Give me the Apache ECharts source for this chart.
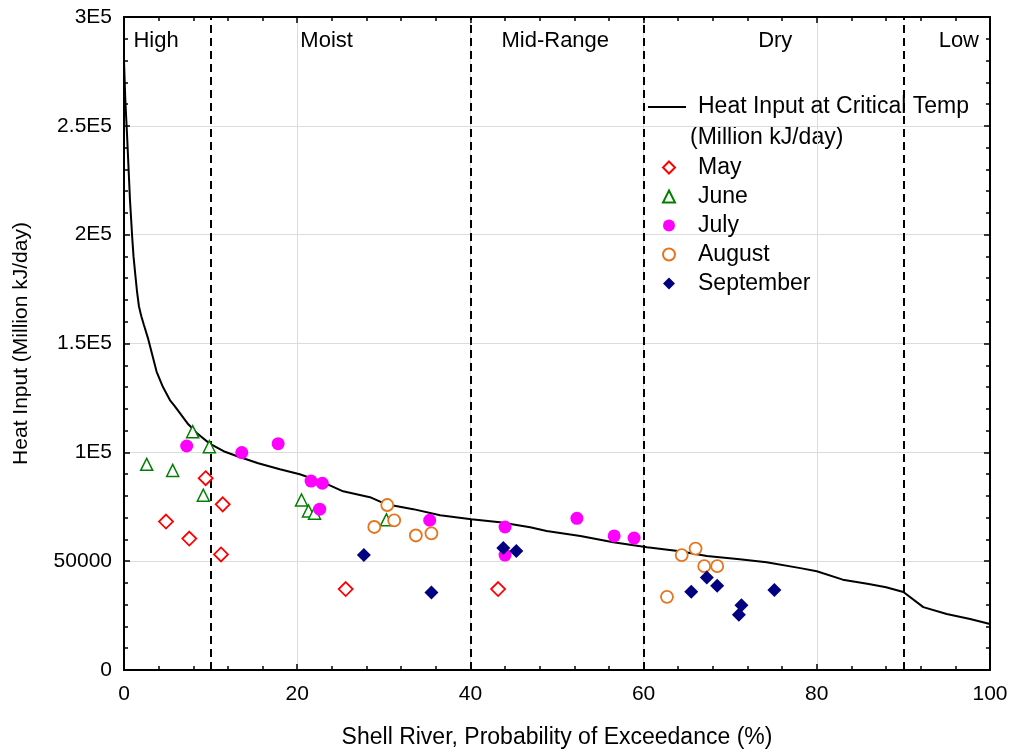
<!DOCTYPE html>
<html>
<head>
<meta charset="utf-8">
<script src="https://cdn.jsdelivr.net/npm/echarts@6/dist/echarts.min.js"></script>
<style>
  html, body { margin: 0; padding: 0; background: #fff; }
  #chart { width: 1011px; height: 754px; }
</style>
</head>
<body>
<div id="chart"></div>
<script>
// Heat input at the critical temperature along the flow duration curve
const curveExceedance = [0, 0.15, 0.35, 0.69, 0.96, 1.1, 1.27, 1.5, 1.73, 2.0, 2.3, 2.8, 3.77, 4.5, 5.3, 5.9, 7.4, 8.5, 9.9, 11.5, 13.0, 15.5, 18.0, 20.3, 23.0, 25.3, 28.4, 30.3, 33.4, 36.5, 40.1, 43.4, 46.9, 48.8, 52.7, 56.5, 60.4, 64.2, 67.3, 71.1, 74.2, 78.1, 80.0, 83.0, 86.0, 88.0, 90.0, 92.3, 95.0, 97.7, 100];
const curveHeat = [280000, 262000, 246000, 216000, 198000, 190000, 183000, 174000, 167000, 162500, 158500, 152000, 137000, 130000, 124000, 121000, 113000, 108500, 104000, 100500, 98300, 95000, 92200, 89900, 86200, 82100, 79400, 76100, 73900, 71100, 69300, 67900, 65600, 63900, 61600, 58700, 56400, 54600, 52400, 50900, 49500, 46800, 45400, 41500, 39500, 38000, 35800, 28900, 25700, 23400, 21100];

// Monthly observations: [probability of exceedance (%), heat input]
const mayObs = [[4.85, 68200], [7.54, 60400], [9.43, 88100], [11.4, 76100], [11.2, 53100], [25.6, 37200], [43.2, 37200]];
const juneObs = [[2.62, 94500], [5.62, 91700], [7.93, 109500], [9.16, 80300], [9.85, 102600], [20.5, 78100], [21.3, 73100], [22.0, 72000], [30.3, 69000]];
const julyObs = [[7.24, 102900], [13.6, 99900], [17.8, 104000], [21.6, 86800], [22.9, 85800], [22.6, 73900], [35.3, 68800], [44.0, 65700], [44.0, 52800], [52.3, 69700], [56.6, 61600], [58.9, 60600]];
const augustObs = [[28.9, 65700], [30.4, 75800], [31.2, 68700], [33.7, 61800], [35.5, 62800], [62.7, 33600], [64.4, 52800], [66.0, 55800], [67.0, 47700], [68.5, 47700]];
const septemberObs = [[27.7, 52800], [35.5, 35600], [43.8, 56000], [45.3, 54700], [65.5, 35900], [67.3, 42500], [68.5, 38700], [71.0, 25400], [71.3, 29800], [75.1, 36800]];

// Flow regime zones: boundaries and labels
const zoneBounds = [10, 40, 60, 90];
const zoneLabels = [[3.7, 289000, 'High'], [23.4, 289000, 'Moist'], [49.8, 289000, 'Mid-Range'], [75.2, 289000, 'Dry'], [96.4, 289000, 'Low']];

const yTickLabels = { 0: '0', 50000: '50000', 100000: '1E5', 150000: '1.5E5', 200000: '2E5', 250000: '2.5E5', 300000: '3E5' };

const FONT = '"Liberation Sans", Arial, sans-serif';
const TXT = '#000';
const TICK_FS = 21;
const TEXT_FS = 22;
const LEGEND_FS = 23;
const lineName = 'Heat Input at Critical Temp';

const chart = echarts.init(document.getElementById('chart'), null, { renderer: 'canvas' });

const frameAxis = {
  axisLine: { show: true, onZero: false, lineStyle: { color: '#000', width: 2 } },
  axisTick: { show: true, inside: true, length: 6, lineStyle: { color: '#000', width: 1.5 } },
  minorTick: { show: true, splitNumber: 5, length: 4, lineStyle: { color: '#000', width: 1.5 } }
};

const solid = { opacity: 1 };

chart.setOption({
  animation: false,
  backgroundColor: '#fff',
  textStyle: { fontFamily: FONT },
  grid: { left: 124, right: 21, top: 17, bottom: 83 },
  xAxis: [{
    type: 'value', min: 0, max: 100, interval: 20,
    position: 'bottom',
    name: 'Shell River, Probability of Exceedance (%)',
    nameLocation: 'middle', nameGap: 56,
    nameTextStyle: { fontSize: LEGEND_FS, color: TXT, fontFamily: FONT },
    axisLabel: { fontSize: TICK_FS, color: TXT, margin: 14, fontFamily: FONT },
    splitLine: { show: true, lineStyle: { color: '#dcdcdc', width: 1 } },
    ...frameAxis
  }, {
    type: 'value', min: 0, max: 100, interval: 20,
    position: 'top',
    axisLabel: { show: false },
    splitLine: { show: false },
    ...frameAxis
  }],
  yAxis: [{
    type: 'value', min: 0, max: 300000, interval: 50000,
    position: 'left',
    name: 'Heat Input (Million kJ/day)',
    nameLocation: 'middle', nameGap: 92, nameRotate: 90,
    nameTextStyle: { fontSize: TICK_FS, color: TXT, fontFamily: FONT },
    axisLabel: { fontSize: TICK_FS, color: TXT, margin: 12, fontFamily: FONT,
      formatter: v => yTickLabels[v] !== undefined ? yTickLabels[v] : '' },
    splitLine: { show: true, lineStyle: { color: '#dcdcdc', width: 1 } },
    ...frameAxis
  }, {
    type: 'value', min: 0, max: 300000, interval: 50000,
    position: 'right',
    axisLabel: { show: false },
    splitLine: { show: false },
    ...frameAxis
  }],
  legend: [{
    data: [{ name: lineName, icon: 'rect' }],
    orient: 'vertical',
    left: 648, top: 93, padding: 0,
    itemWidth: 38, itemHeight: 2,
    itemStyle: { color: '#000' },
    textStyle: { fontSize: LEGEND_FS, color: TXT, fontFamily: FONT, lineHeight: 28, padding: [0, 0, 0, 7] },
    selectedMode: false
  }, {
    data: ['May', 'June', 'July', 'August', 'September'],
    orient: 'vertical',
    left: 662, top: 153, padding: 0,
    itemWidth: 12, itemHeight: 12, itemGap: 0,
    textStyle: { fontSize: LEGEND_FS, color: TXT, fontFamily: FONT, lineHeight: 29, padding: [0, 0, 0, 18] },
    selectedMode: false
  }],
  graphic: [{
    type: 'text',
    x: 690, y: 138,
    style: { text: '(Million kJ/day)', fontSize: LEGEND_FS, fill: TXT, fontFamily: FONT, verticalAlign: 'middle' }
  }],
  series: [{
    name: lineName,
    type: 'line',
    data: curveExceedance.map((x, i) => [x, curveHeat[i]]),
    showSymbol: false, symbol: 'none',
    lineStyle: { color: '#000', width: 2 },
    itemStyle: { color: '#000' },
    z: 3,
    markLine: {
      silent: true, symbol: 'none',
      label: { show: false },
      lineStyle: { color: '#000', width: 2, type: [8, 5] },
      data: zoneBounds.map(b => ({ xAxis: b }))
    }
  }, {
    name: 'zones',
    type: 'scatter',
    data: zoneLabels,
    symbolSize: 0,
    silent: true,
    itemStyle: solid,
    label: { show: true, position: 'inside', formatter: p => p.value[2], fontSize: TEXT_FS, color: TXT, fontFamily: FONT, textBorderWidth: 0 }
  }, {
    name: 'May', type: 'scatter', data: mayObs,
    symbol: 'diamond', symbolSize: 14, z: 5,
    itemStyle: { ...solid, color: '#fff', borderColor: '#ff0000', borderWidth: 1.8 }
  }, {
    name: 'June', type: 'scatter', data: juneObs,
    symbol: 'triangle', symbolSize: 12, z: 5,
    itemStyle: { ...solid, color: '#fff', borderColor: '#008000', borderWidth: 1.5 }
  }, {
    name: 'July', type: 'scatter', data: julyObs,
    symbol: 'circle', symbolSize: 13, z: 5,
    itemStyle: { ...solid, color: '#ff00ff' }
  }, {
    name: 'August', type: 'scatter', data: augustObs,
    symbol: 'circle', symbolSize: 12, z: 5,
    itemStyle: { ...solid, color: '#fff', borderColor: '#e8731c', borderWidth: 1.8 }
  }, {
    name: 'September', type: 'scatter', data: septemberObs,
    symbol: 'diamond', symbolSize: 14, z: 5,
    itemStyle: { ...solid, color: '#000080' }
  }]
});
</script>
</body>
</html>
